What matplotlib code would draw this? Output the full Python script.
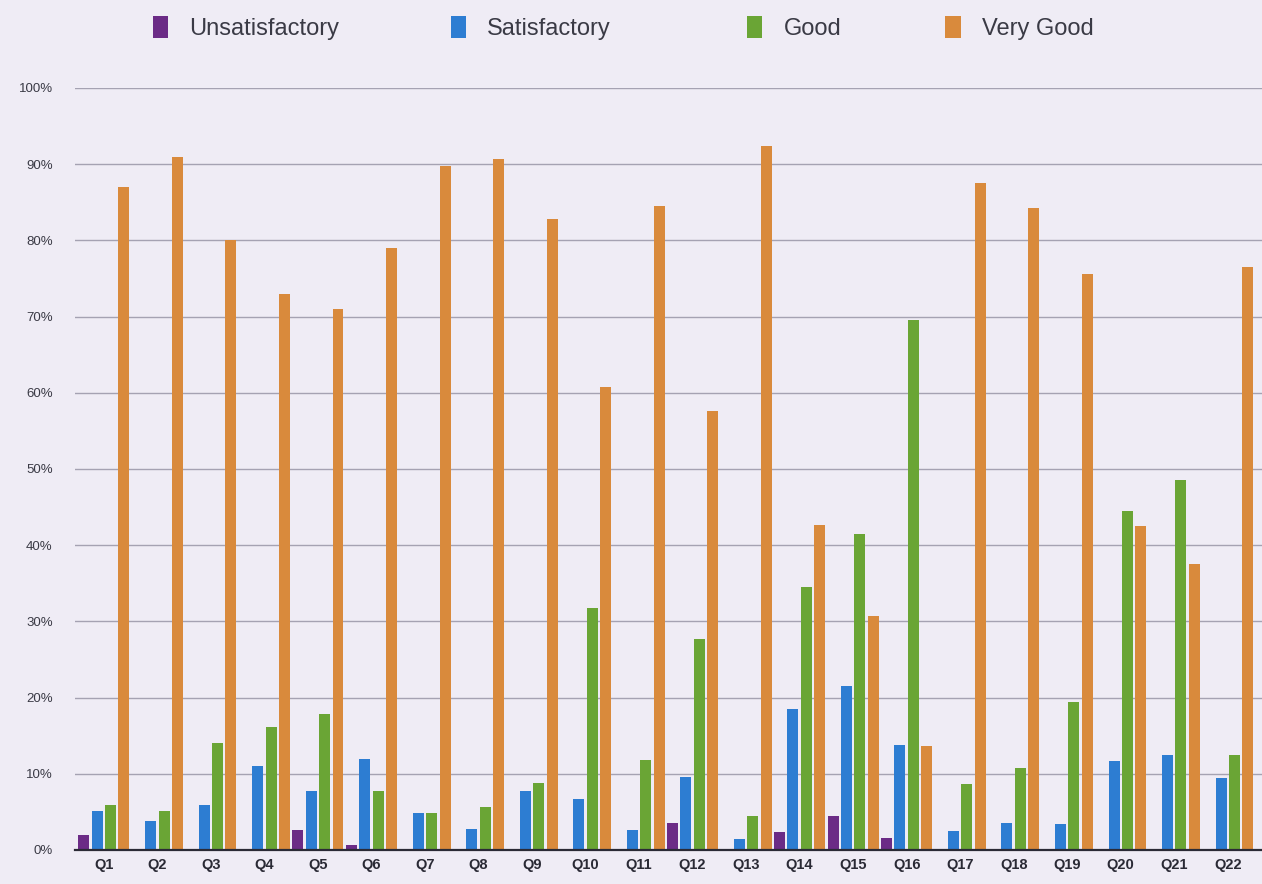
import numpy as np
import matplotlib
matplotlib.use("Agg")
import matplotlib.pyplot as plt
from matplotlib.ticker import FuncFormatter

# -------------------------
# DATA (percent of answers per question)
# -------------------------
questions = ["Q%d" % i for i in range(1, 23)]
series = ["Unsatisfactory", "Satisfactory", "Good", "Very Good"]

unsatisfactory = [1.9, 0, 0, 0, 2.6, 0.6, 0, 0, 0, 0, 0, 3.6, 0, 2.4, 4.5, 1.6, 0, 0, 0, 0, 0, 0]
satisfactory = [5.1, 3.8, 5.9, 11.0, 7.8, 11.9, 4.8, 2.7, 7.7, 6.7, 2.6, 9.6, 1.4, 18.5, 21.5, 13.8,
                2.5, 3.5, 3.4, 11.7, 12.5, 9.5]
good = [5.9, 5.1, 14.1, 16.2, 17.8, 7.7, 4.8, 5.7, 8.8, 31.8, 11.8, 27.7, 4.5, 34.5, 41.5, 69.5,
        8.7, 10.7, 19.4, 44.5, 48.5, 12.5]
very_good = [87.0, 91.0, 80.0, 73.0, 71.0, 79.0, 89.7, 90.7, 82.8, 60.8, 84.5, 57.6, 92.4, 42.6,
             30.7, 13.7, 87.5, 84.2, 75.6, 42.5, 37.5, 76.5]

colors = ["#6b2b86", "#2d7dd2", "#6aa535", "#d98a3c"]

# legend item anchors (figure fraction, left edge of each square)
legend_x = [0.121, 0.357, 0.592, 0.749]

# -------------------------
# PLOT
# -------------------------
plt.rcParams["font.family"] = ["Liberation Sans", "DejaVu Sans"]

fig = plt.figure(figsize=(12.62, 8.84), dpi=100, facecolor="#efecf5")
ax = fig.add_axes([0.0594, 0.0385, 0.9406, 0.862])
ax.set_facecolor("#efecf5")

x = np.arange(len(questions))
width = 0.205
offsets = [-0.375, -0.125, 0.125, 0.375]
values = [unsatisfactory, satisfactory, good, very_good]

bars = []
for vals, off, col, name in zip(values, offsets, colors, series):
    b = ax.bar(x + off, vals, width=width, color=col, label=name, zorder=3)
    bars.append(b)

ax.set_ylim(0, 100)
ax.set_xlim(-0.54, 21.64)
ax.set_yticks(np.arange(0, 101, 10))
ax.yaxis.set_major_formatter(FuncFormatter(lambda v, p: "%d%%" % v))
ax.set_xticks(x)
ax.set_xticklabels(questions, fontweight="bold", fontsize=10.5, color="#2a2a35")
ax.tick_params(axis="y", length=0, pad=16, labelsize=9.5, labelcolor="#3a3a45")
ax.tick_params(axis="x", length=0, pad=6)

ax.grid(axis="y", color="#a5a2b2", linewidth=1.0, zorder=0)
for side in ["top", "right", "left"]:
    ax.spines[side].set_visible(False)
ax.spines["bottom"].set_color("#2a2a35")
ax.spines["bottom"].set_linewidth(1.6)
ax.spines["bottom"].set_zorder(4)

# one legend entry per series, placed like the original
for b, name, lx in zip(bars, series, legend_x):
    leg = fig.legend(handles=[b], labels=[name], loc="center left",
                     bbox_to_anchor=(lx, 0.968), frameon=False,
                     fontsize=17, handlelength=0.65, handleheight=1.05,
                     handletextpad=0.9, borderaxespad=0, borderpad=0,
                     labelcolor="#3a3a45")

fig.savefig("out.png", dpi=100, facecolor=fig.get_facecolor())
